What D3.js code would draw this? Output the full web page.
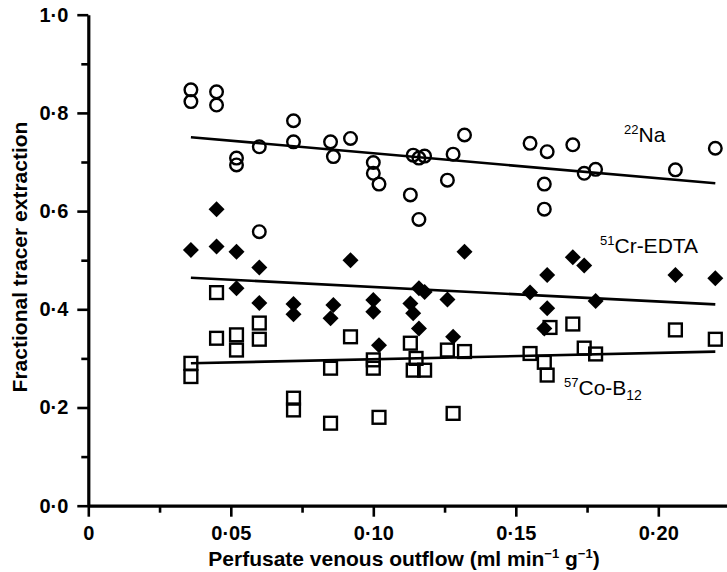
<!DOCTYPE html>
<html>
<head>
<meta charset="utf-8">
<script src="https://cdn.jsdelivr.net/npm/d3@7"></script>
<style>
  body { margin: 0; background: #fff; }
  text { font-family: "Liberation Sans", Arial, sans-serif; }
</style>
</head>
<body>
<div id="chart"></div>
<script>
/* Fractional tracer extraction vs perfusate venous outflow */

// 22Na (open circles)
const naPoints = [
  [0.036, 0.847], [0.036, 0.823], [0.045, 0.843], [0.045, 0.816],
  [0.052, 0.708], [0.052, 0.694], [0.060, 0.731], [0.060, 0.558],
  [0.072, 0.784], [0.072, 0.741], [0.085, 0.741], [0.086, 0.711],
  [0.092, 0.748], [0.100, 0.699], [0.100, 0.677], [0.102, 0.655],
  [0.113, 0.633], [0.114, 0.714], [0.116, 0.708], [0.116, 0.583],
  [0.118, 0.712], [0.126, 0.663], [0.128, 0.716], [0.132, 0.755],
  [0.155, 0.738], [0.161, 0.721], [0.160, 0.655], [0.160, 0.604],
  [0.170, 0.735], [0.174, 0.677], [0.178, 0.685], [0.206, 0.684],
  [0.220, 0.728]
];

// 51Cr-EDTA (filled diamonds)
const crPoints = [
  [0.036, 0.521], [0.045, 0.604], [0.045, 0.528], [0.052, 0.517],
  [0.052, 0.443], [0.060, 0.485], [0.060, 0.413], [0.072, 0.411],
  [0.072, 0.390], [0.086, 0.409], [0.085, 0.382], [0.092, 0.500],
  [0.100, 0.419], [0.100, 0.395], [0.102, 0.327], [0.113, 0.412],
  [0.114, 0.392], [0.116, 0.443], [0.118, 0.435], [0.116, 0.361],
  [0.126, 0.420], [0.128, 0.344], [0.132, 0.517], [0.155, 0.434],
  [0.161, 0.470], [0.161, 0.402], [0.160, 0.361], [0.170, 0.506],
  [0.174, 0.489], [0.178, 0.417], [0.206, 0.470], [0.220, 0.463]
];

// 57Co-B12 (open squares)
const coPoints = [
  [0.036, 0.290], [0.036, 0.263], [0.045, 0.434], [0.045, 0.341],
  [0.052, 0.348], [0.052, 0.317], [0.060, 0.372], [0.060, 0.339],
  [0.072, 0.219], [0.072, 0.195], [0.085, 0.168], [0.085, 0.280],
  [0.092, 0.344], [0.100, 0.297], [0.100, 0.280], [0.102, 0.180],
  [0.113, 0.331], [0.115, 0.300], [0.114, 0.276], [0.118, 0.276],
  [0.126, 0.317], [0.128, 0.188], [0.132, 0.314], [0.155, 0.310],
  [0.160, 0.292], [0.161, 0.266], [0.162, 0.363], [0.170, 0.370],
  [0.174, 0.321], [0.178, 0.309], [0.206, 0.358], [0.220, 0.339]
];

// regression lines (end points)
const naFit = [[0.036, 0.7505], [0.220, 0.6566]];
const crFit = [[0.036, 0.4644], [0.220, 0.4100]];
const coFit = [[0.036, 0.2900], [0.220, 0.3137]];

const yMajor = [0, 0.2, 0.4, 0.6, 0.8, 1.0];
const yMinor = [0.1, 0.3, 0.5, 0.7, 0.9];
const xMajor = [0, 0.05, 0.10, 0.15, 0.20];
const xMinor = [0.025, 0.075, 0.125, 0.175];

const width = 727, height = 572;
const margin = {top: 14.7, right: 0, bottom: 66.3, left: 88.3};

const svg = d3.select("#chart")
  .append("svg")
  .attr("width", width)
  .attr("height", height)
  .attr("viewBox", [0, 0, width, height]);

const x = d3.scaleLinear()
  .domain([0, 0.2241])
  .range([margin.left, width - margin.right]);

const y = d3.scaleLinear()
  .domain([0, 1])
  .range([height - margin.bottom, margin.top]);

const dot = s => s.replace(".", "\u00b7");

/* axes */
svg.append("g")
  .attr("transform", `translate(${margin.left},0)`)
  .call(d3.axisLeft(y).tickValues(yMajor).tickSize(11).tickSizeOuter(0)
        .tickPadding(9).tickFormat(d => dot(d3.format(".1f")(d))));
svg.append("g")
  .attr("transform", `translate(${margin.left},0)`)
  .call(d3.axisLeft(y).tickValues(yMinor).tickSize(7).tickFormat(""))
  .call(g => g.select(".domain").remove());

svg.append("g")
  .attr("transform", `translate(0,${y(0)})`)
  .call(d3.axisBottom(x).tickValues(xMajor).tickSize(11).tickSizeOuter(0)
        .tickPadding(9).tickFormat(d => d === 0 ? "0" : dot(d3.format(".2f")(d))));
svg.append("g")
  .attr("transform", `translate(0,${y(0)})`)
  .call(d3.axisBottom(x).tickValues(xMinor).tickSize(7).tickFormat(""))
  .call(g => g.select(".domain").remove());

svg.selectAll(".domain").attr("stroke", "#000").attr("stroke-width", 3.2);
svg.selectAll(".tick line").attr("stroke", "#000").attr("stroke-width", 2.6);
svg.selectAll(".tick text")
  .attr("fill", "#000")
  .style("font-size", "20px")
  .style("font-weight", "bold")
  .style("font-family", "'Liberation Sans', Arial, sans-serif");

/* axis titles */
svg.append("text")
  .attr("transform", `translate(27,257) rotate(-90)`)
  .attr("text-anchor", "middle")
  .style("font-size", "21px")
  .style("font-weight", "bold")
  .text("Fractional tracer extraction");

const xt = svg.append("text")
  .attr("x", 404)
  .attr("y", 566)
  .attr("text-anchor", "middle")
  .style("font-size", "21px")
  .style("font-weight", "bold");
xt.append("tspan").text("Perfusate venous outflow (ml min");
xt.append("tspan").attr("dy", -8).style("font-size", "13px").text("\u22121");
xt.append("tspan").attr("dy", 8).text(" g");
xt.append("tspan").attr("dy", -8).style("font-size", "13px").text("\u22121");
xt.append("tspan").attr("dy", 8).text(")");

/* regression lines */
const line = d3.line().x(d => x(d[0])).y(d => y(d[1]));
[naFit, crFit, coFit].forEach(f => {
  svg.append("path")
    .attr("d", line(f))
    .attr("fill", "none")
    .attr("stroke", "#000")
    .attr("stroke-width", 2.6);
});

/* markers */
svg.append("g").selectAll("rect")
  .data(coPoints)
  .join("rect")
  .attr("x", d => x(d[0]) - 6.4)
  .attr("y", d => y(d[1]) - 6.4)
  .attr("width", 12.8)
  .attr("height", 12.8)
  .attr("fill", "none")
  .attr("stroke", "#000")
  .attr("stroke-width", 2.4);

svg.append("g").selectAll("path")
  .data(crPoints)
  .join("path")
  .attr("transform", d => `translate(${x(d[0])},${y(d[1])})`)
  .attr("d", "M0,-8L8,0L0,8L-8,0Z")
  .attr("fill", "#000");

svg.append("g").selectAll("circle")
  .data(naPoints)
  .join("circle")
  .attr("cx", d => x(d[0]))
  .attr("cy", d => y(d[1]))
  .attr("r", 6.3)
  .attr("fill", "none")
  .attr("stroke", "#000")
  .attr("stroke-width", 2.4);

/* series labels */
function label(xp, yp, sup, main, sub) {
  const t = svg.append("text").attr("x", xp).attr("y", yp).style("font-size", "21px");
  t.append("tspan").attr("dy", -8).style("font-size", "13px").text(sup);
  t.append("tspan").attr("dy", 8).text(main);
  if (sub) t.append("tspan").attr("dy", 5).style("font-size", "14px").text(sub);
}
label(624, 142, "22", "Na");
label(600, 253, "51", "Cr-EDTA");
label(564, 395, "57", "Co-B", "12");
</script>
</body>
</html>
